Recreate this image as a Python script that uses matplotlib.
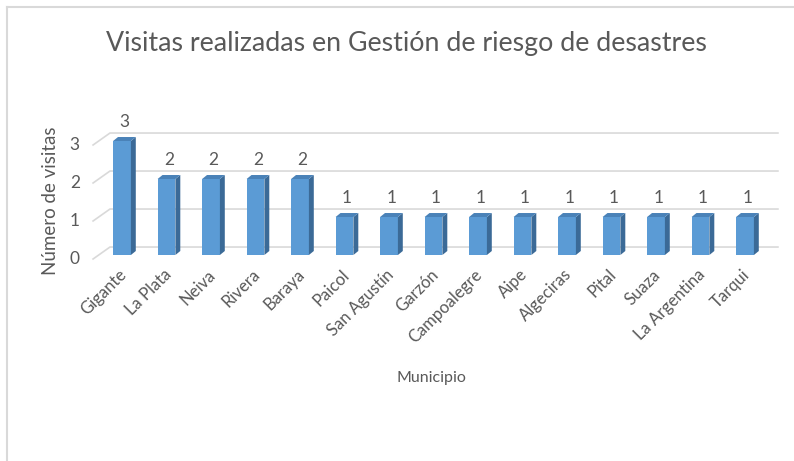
import numpy as np
import matplotlib.pyplot as plt
from matplotlib.patches import Polygon
from matplotlib.lines import Line2D

municipios = ['Gigante', 'La Plata', 'Neiva', 'Rivera', 'Baraya', 'Paicol',
              'San Agustín', 'Garzón', 'Campoalegre', 'Aipe', 'Algeciras',
              'Pital', 'Suaza', 'La Argentina', 'Tarqui']
visitas = [3, 2, 2, 2, 2, 1, 1, 1, 1, 1, 1, 1, 1, 1, 1]
yticks = [0, 1, 2, 3]

plt.rcParams['font.family'] = ['Lato', 'DejaVu Sans']
gray = '#595959'
front_c = '#5b9bd5'
side_c = '#3b6a97'
top_c = '#4a82b8'

fig = plt.figure(figsize=(7.94, 4.61), dpi=100)
ax = fig.add_axes([86.4 / 794, (461 - 262.6) / 461, 694.2 / 794, 144.4 / 461])
ax.set_xlim(-0.8, 14.8)
ax.set_ylim(-0.2, 3.6)
ax.axis('off')

# 3d offsets (data units)
w = 0.40
ddx, ddy = 0.11, 0.105
fx, bx = -0.65, -0.27
fy, by = -0.105, 0.21

for v in yticks:
    ax.plot([fx, bx, 14.74], [v + fy, v + by, v + by], color='#d9d9d9', lw=1.2, zorder=1)
    ax.text(fx - 0.3, v + fy, str(v), ha='right', va='center', fontsize=12.5, color=gray)

x = np.arange(len(municipios))
for xi, v in zip(x, visitas):
    l, r = xi - w / 2, xi + w / 2
    ax.add_patch(Polygon([(l, 0), (r, 0), (r, v), (l, v)], closed=True,
                         facecolor=front_c, edgecolor='none', zorder=3))
    ax.add_patch(Polygon([(r, 0), (r + ddx, ddy), (r + ddx, v + ddy), (r, v)], closed=True,
                         facecolor=side_c, edgecolor='none', zorder=3))
    ax.add_patch(Polygon([(l, v), (r, v), (r + ddx, v + ddy), (l + ddx, v + ddy)], closed=True,
                         facecolor=top_c, edgecolor='none', zorder=3))
    ax.text(xi + ddx / 2, v + 0.5, str(v), ha='center', va='center', fontsize=12.5, color=gray)
    ax.text(xi - 0.08, -0.3, municipios[xi], rotation=45, ha='right', va='top',
            rotation_mode='anchor', fontsize=12, color=gray)

fig.text(406 / 794, 1 - 44 / 461, 'Visitas realizadas en Gestión de riesgo de desastres',
         ha='center', va='center', fontsize=19.3, color=gray)
fig.text(51 / 794, 1 - 201 / 461, 'Número de visitas', rotation=90,
         ha='center', va='center', fontsize=13.5, color=gray)
fig.text(431 / 794, 1 - 378 / 461, 'Municipio', ha='center', va='center',
         fontsize=11.5, color=gray)

# chart border (top and left only visible)
fig.add_artist(Line2D([6.5 / 794, 1], [1 - 7.5 / 461, 1 - 7.5 / 461], color='#d9d9d9', lw=1.5))
fig.add_artist(Line2D([6.5 / 794, 6.5 / 794], [0, 1 - 7.5 / 461], color='#d9d9d9', lw=1.5))

plt.savefig('out.png', dpi=100)
plt.close()
